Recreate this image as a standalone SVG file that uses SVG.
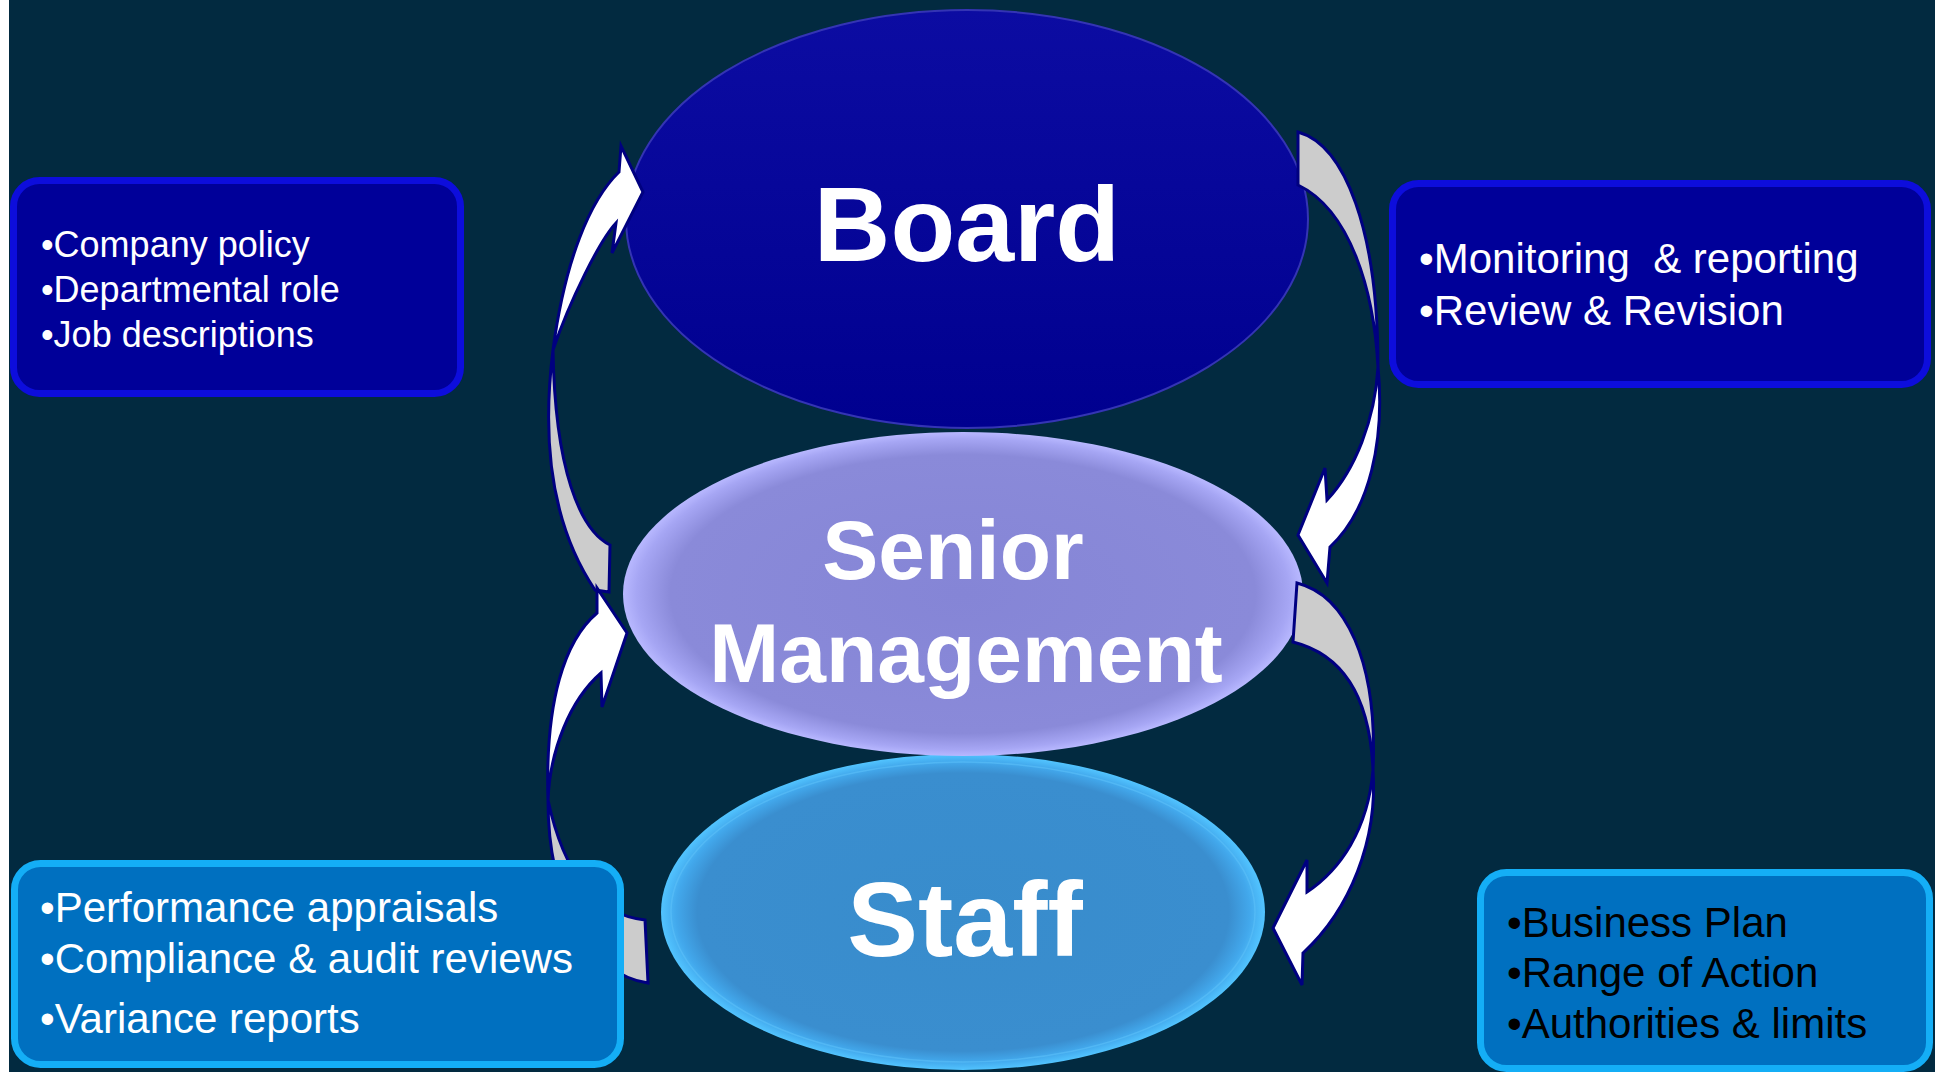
<svg xmlns="http://www.w3.org/2000/svg" width="1935" height="1072" viewBox="0 0 1935 1072">
<defs>
<linearGradient id="gBoard" x1="0" y1="0" x2="0" y2="1">
<stop offset="0" stop-color="#0c0ca2"/>
<stop offset="1" stop-color="#00008f"/>
</linearGradient>
<radialGradient id="gSenior" cx="0.5" cy="0.5" r="0.5">
<stop offset="0" stop-color="#8585d6"/>
<stop offset="0.86" stop-color="#8a8ad9"/>
<stop offset="0.96" stop-color="#a6a6f4"/>
<stop offset="1" stop-color="#b8b8ff"/>
</radialGradient>
<radialGradient id="gStaff" cx="0.5" cy="0.5" r="0.5">
<stop offset="0" stop-color="#388ccc"/>
<stop offset="0.88" stop-color="#3a8ecf"/>
<stop offset="0.95" stop-color="#42a8ec"/>
<stop offset="1" stop-color="#52c4ff"/>
</radialGradient>
<style>
.bg{fill:#022a40}
.boxD{fill:#000099;stroke:#0d0ddc;stroke-width:7}
.boxL{fill:#0070c0;stroke:#14aef6;stroke-width:7}
.t{font-family:"Liberation Sans",Arial,sans-serif;white-space:pre}
.tw{fill:#ffffff}
.tb{fill:#000000}
.big{font-family:"Liberation Sans",Arial,sans-serif;font-weight:bold;fill:#ffffff;text-anchor:middle}
.front{fill:#ffffff;stroke:#000080;stroke-width:3;stroke-linejoin:miter}
.back{fill:#cccccc;stroke:#000080;stroke-width:3;stroke-linejoin:miter}
</style>
</defs>
<rect class="bg" x="0" y="0" width="1935" height="1072"/>
<rect x="0" y="0" width="9" height="1072" fill="#ffffff"/>

<g id="node-staff">
<ellipse cx="963" cy="912" rx="302" ry="158" fill="url(#gStaff)"/>
<ellipse cx="963" cy="912" rx="292" ry="150" fill="none" stroke="#5cc0f8" stroke-width="1.5" opacity="0.6"/>
<text class="big" x="965" y="956" font-size="106">Staff</text>
</g>
<g id="node-senior">
<ellipse cx="963" cy="594" rx="340" ry="162" fill="url(#gSenior)"/>
<text class="big" x="953" y="579" font-size="84">Senior</text>
<text class="big" x="966" y="682" font-size="84">Management</text>
</g>
<g id="node-board">
<ellipse cx="967" cy="219" rx="341" ry="209" fill="url(#gBoard)" stroke="#3434b4" stroke-width="2"/>
<text class="big" x="967" y="261" font-size="106">Board</text>
</g>

<g id="connectors">
<g id="arrow-senior-board">
<path class="back" d="M553,350 C543,430 548,520 595,590 L609,592 L610,545 C580,530 555,470 553,350 Z"/>
<path class="front" d="M619,172 L621,146 L643,192 L612,253 L616,223 C600,240 570,300 553,350 C565,260 590,200 619,172 Z"/>
</g>
<g id="arrow-staff-senior">
<path class="back" d="M548,800 C548,900 590,975 648,983 L645,920 C600,915 565,880 548,800 Z"/>
<path class="front" d="M597,613 L597,588 L627,633 L602,707 L601,673 C570,700 550,750 548,800 C545,700 565,640 597,613 Z"/>
</g>
<g id="arrow-board-senior">
<path class="back" d="M1298,132 C1345,145 1378,230 1378,367 C1374,290 1350,210 1298,185 Z"/>
<path class="front" d="M1378,367 C1385,440 1370,510 1330,547 L1327,583 L1298,535 L1325,468 L1327,500 C1355,470 1375,420 1378,367 Z"/>
</g>
<g id="arrow-senior-staff">
<path class="back" d="M1297,583 C1345,595 1378,660 1373,770 C1370,700 1345,655 1293,642 Z"/>
<path class="front" d="M1373,770 C1378,840 1350,910 1303,953 L1302,985 L1273,928 L1307,860 L1307,892 C1340,870 1368,830 1373,770 Z"/>
</g>
</g>

<g id="box-policy">
<rect class="boxD" x="13.5" y="180.5" width="447" height="213" rx="26"/>
<text class="t tw" font-size="36"><tspan x="41" y="257">•Company policy</tspan><tspan x="41" y="302">•Departmental role</tspan><tspan x="41" y="347">•Job descriptions</tspan></text>
</g>
<g id="box-monitoring">
<rect class="boxD" x="1392.5" y="183.5" width="535" height="201" rx="26"/>
<text class="t tw" font-size="42"><tspan x="1419" y="273">•Monitoring  &amp; reporting</tspan><tspan x="1419" y="325">•Review &amp; Revision</tspan></text>
</g>
<g id="box-performance">
<rect class="boxL" x="14.5" y="863.5" width="606" height="201" rx="26"/>
<text class="t tw" font-size="42"><tspan x="40" y="922">•Performance appraisals</tspan><tspan x="40" y="973">•Compliance &amp; audit reviews</tspan><tspan x="40" y="1033">•Variance reports</tspan></text>
</g>
<g id="box-business">
<rect class="boxL" x="1480.5" y="872.5" width="449" height="196" rx="26"/>
<text class="t tb" font-size="42"><tspan x="1507" y="937">•Business Plan</tspan><tspan x="1507" y="987">•Range of Action</tspan><tspan x="1507" y="1038">•Authorities &amp; limits</tspan></text>
</g>
</svg>
